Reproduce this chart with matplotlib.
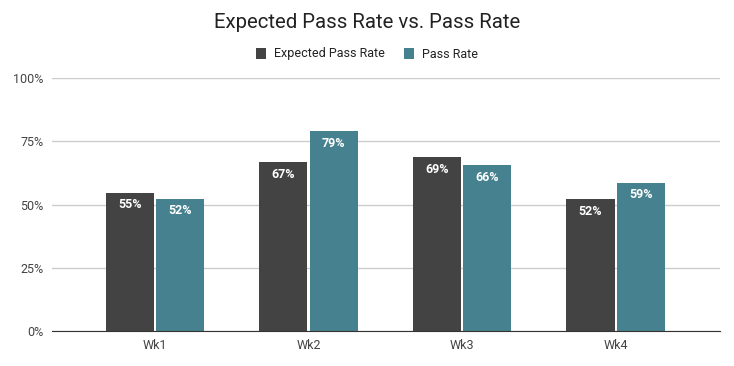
import numpy as np
import matplotlib
matplotlib.use('Agg')
import matplotlib.pyplot as plt
from matplotlib.ticker import FuncFormatter

weeks = ['Wk1', 'Wk2', 'Wk3', 'Wk4']
expected_rate = [0.546, 0.667, 0.686, 0.521]
pass_rate = [0.523, 0.790, 0.656, 0.586]

plt.rcParams['font.family'] = ['Roboto', 'DejaVu Sans']

W, H = 734, 366
fig = plt.figure(figsize=(W / 100, H / 100), dpi=100)
ax = fig.add_axes([52 / W, (H - 331) / H, (720 - 52) / W, (331 - 78) / H])

x = np.arange(len(weeks))
width = 0.313
gap = 0.007
b1 = ax.bar(x - width / 2 - gap, expected_rate, width, color='#434343', label='Expected Pass Rate', zorder=3)
b2 = ax.bar(x + width / 2 + gap, pass_rate, width, color='#45818e', label='Pass Rate', zorder=3)

# value labels inside the top of each bar
for bars in (b1, b2):
    for r in bars:
        v = r.get_height()
        ax.annotate(f'{v:.0%}', (r.get_x() + r.get_width() / 2, v), xytext=(0, -12),
                    textcoords='offset pixels', ha='center', va='center',
                    color='white', fontsize=9, fontweight='bold', zorder=4)

ax.set_xlim(-0.67, 3.68)
ax.set_ylim(0, 1)
ax.set_yticks([0, 0.25, 0.5, 0.75, 1.0])
ax.yaxis.set_major_formatter(FuncFormatter(lambda v, _: f'{v:.0%}'))
ax.set_xticks(x)
ax.set_xticklabels(weeks)
ax.grid(axis='y', color='#cccccc', linewidth=1, zorder=0)
for s in ['top', 'right', 'left']:
    ax.spines[s].set_visible(False)
ax.spines['bottom'].set_color('#333333')
ax.spines['bottom'].set_zorder(5)
ax.tick_params(axis='both', length=0, labelsize=9, colors='#444444')
ax.tick_params(axis='y', pad=6)
ax.tick_params(axis='x', pad=6)

fig.text(0.5, 1 - 22 / H, 'Expected Pass Rate vs. Pass Rate', ha='center', va='center',
         fontsize=14.7, color='#222222')
fig.legend(handles=[b1, b2], loc='center', bbox_to_anchor=(0.5, 1 - 54 / H), ncol=2, frameon=False,
           fontsize=9, labelcolor='#222222', handlelength=0.8, handleheight=1.0,
           handletextpad=0.6, columnspacing=1.6)

fig.savefig('out.png', dpi=100)
